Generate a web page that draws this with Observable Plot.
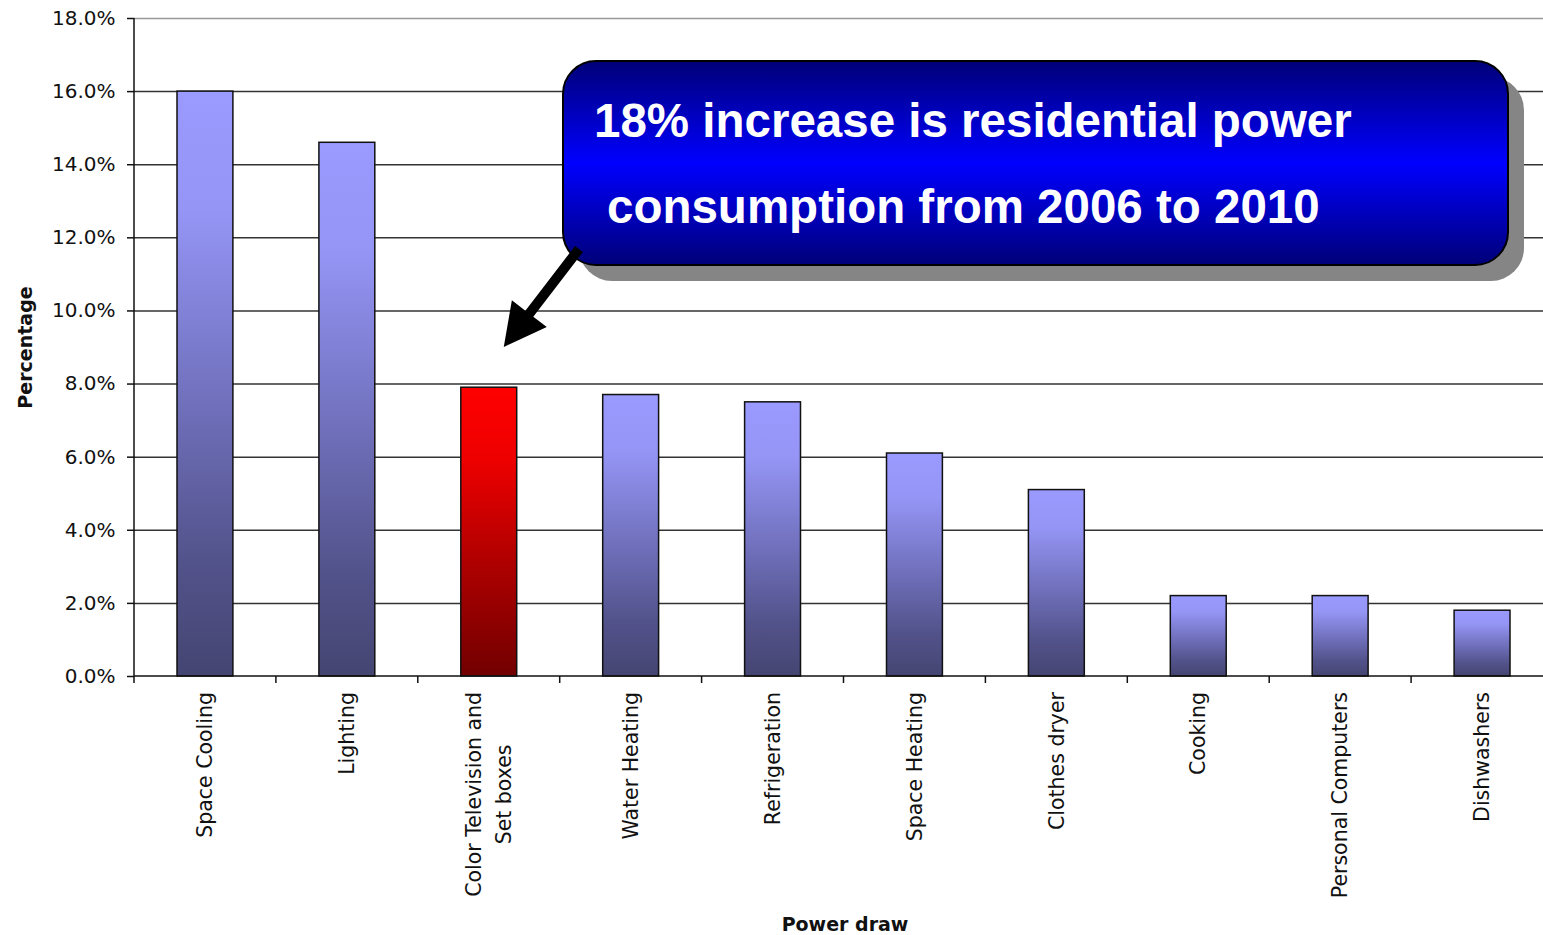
<!DOCTYPE html>
<html><head><meta charset="utf-8">
<script src="https://cdn.jsdelivr.net/npm/d3@7"></script>
<script src="https://cdn.jsdelivr.net/npm/@observablehq/plot@0.6"></script>
<style>
html,body{margin:0;padding:0;background:#fff;}
#chart svg{display:block;}
</style></head><body><div id="chart"></div>
<script>
const categories = ["Space Cooling","Lighting","Color Television and\nSet boxes","Water Heating","Refrigeration","Space Heating","Clothes dryer","Cooking","Personal Computers","Dishwashers"];
const values = [16.0, 14.6, 7.9, 7.7, 7.5, 6.1, 5.1, 2.2, 2.2, 1.8];
const highlighted = ["Color Television and\nSet boxes"];
const yTicks = [0, 2, 4, 6, 8, 10, 12, 14, 16, 18];
const calloutLines = ["18% increase is residential power", "consumption from 2006 to 2010"];
const xTitle = "Power draw";
const yTitle = "Percentage";

const data = categories.map((c, i) => ({category: c, value: values[i], hi: highlighted.includes(c)}));
const W = 1543, H = 935;
const NS = "http://www.w3.org/2000/svg";
function el(tag, attrs, parent) {
  const e = document.createElementNS(NS, tag);
  for (const k in attrs) e.setAttribute(k, attrs[k]);
  if (parent) parent.appendChild(e);
  return e;
}

// gradient definitions
function defsMark() {
  const g = el("g", {});
  const defs = el("defs", {}, g);
  const b = el("linearGradient", {id: "blueGrad", x1: 0, y1: 0, x2: 0, y2: 1}, defs);
  [[0,"#9a9aff"],[0.2,"#9595f6"],[0.55,"#6e6eb9"],[0.8,"#53538c"],[1,"#454572"]].forEach(([o,c]) => el("stop", {offset: o, "stop-color": c}, b));
  const r = el("linearGradient", {id: "redGrad", x1: 0, y1: 0, x2: 0, y2: 1}, defs);
  [[0,"#ff0000"],[0.25,"#ee0000"],[0.6,"#b00000"],[1,"#720000"]].forEach(([o,c]) => el("stop", {offset: o, "stop-color": c}, r));
  const n = el("linearGradient", {id: "boxGrad", x1: 0, y1: 0, x2: 0, y2: 1}, defs);
  [[0,"#000078"],[0.5,"#0000ff"],[1,"#000078"]].forEach(([o,c]) => el("stop", {offset: o, "stop-color": c}, n));
  return g;
}

// axis lines and category boundary ticks
function axesMark(index, scales, values, dims) {
  const g = el("g", {stroke: "#111", "stroke-width": 1.5});
  const x = scales.x, y = scales.y;
  const bw = x.bandwidth ? x.bandwidth() : 141.9;
  const y0 = y(0), yTop = y(18);
  el("line", {x1: dims.marginLeft, x2: dims.width, y1: y0, y2: y0}, g);
  el("line", {x1: dims.marginLeft, x2: dims.marginLeft, y1: yTop, y2: y0}, g);
  const bounds = categories.map(c => x(c)).concat([x(categories[categories.length-1]) + bw]);
  bounds.forEach(b => { if (b <= dims.width) el("line", {x1: b, x2: b, y1: y0, y2: y0 + 7}, g); });
  return g;
}

// rotated category labels (multi-line centered like the original)
function labelsMark(index, scales, values, dims) {
  const g = el("g", {"font-family": "DejaVu Sans, sans-serif", "font-size": 20.5, fill: "#111"});
  const ctx = document.createElement("canvas").getContext("2d");
  ctx.font = "20.5px 'DejaVu Sans'";
  const x = scales.x;
  const bw = x.bandwidth ? x.bandwidth() : 141.9;
  const y0 = scales.y(0);
  categories.forEach(c => {
    const lines = c.split("\n");
    const w = Math.max(...lines.map(l => ctx.measureText(l).width));
    const cx = x(c) + bw / 2;
    const t = el("text", {transform: `translate(${cx},${y0 + 16 + w / 2}) rotate(-90)`, "text-anchor": "middle"}, g);
    lines.forEach((l, i) => {
      const ts = el("tspan", {x: 0, y: (i - (lines.length - 1) / 2) * 30, dy: "0.35em"}, t);
      ts.textContent = l;
    });
  });
  return g;
}

// callout box with shadow and arrow
function calloutMark(index, scales, values, dims) {
  const g = el("g", {});
  const bx = 563, by = 61, bwid = 945, bh = 204, rx = 33;
  el("rect", {x: bx + 16, y: by + 16, width: bwid, height: bh, rx: rx, fill: "#858585"}, g);
  el("rect", {x: bx, y: by, width: bwid, height: bh, rx: rx, fill: "url(#boxGrad)", stroke: "#000", "stroke-width": 2}, g);
  // arrow pointing to the highlighted bar
  const x = scales.x;
  const bw = x.bandwidth ? x.bandwidth() : 141.9;
  const T = [x(highlighted[0]) + bw / 2 + 15, scales.y(9.0)];
  const S = [579, 249];
  const dx = T[0] - S[0], dy = T[1] - S[1], L = Math.hypot(dx, dy);
  const u = [dx / L, dy / L], nrm = [u[1], -u[0]];
  const B = [T[0] - 42 * u[0], T[1] - 42 * u[1]];
  const p = (P, k) => [P[0] + k * nrm[0], P[1] + k * nrm[1]];
  const pts = [p(S, 5), p(B, 5), p(B, 22), T, p(B, -22), p(B, -5), p(S, -5)];
  el("polygon", {points: pts.map(q => q.join(",")).join(" "), fill: "#000"}, g);
  const tg = el("g", {"font-family": "Liberation Sans, Arial, sans-serif", "font-weight": "bold", "font-size": 47.5, fill: "#fff", "text-anchor": "start"}, g);
  const t1 = el("text", {x: 594, y: 137}, tg); t1.textContent = calloutLines[0];
  const t2 = el("text", {x: 607, y: 223}, tg); t2.textContent = calloutLines[1];
  return g;
}

const chart = Plot.plot({
  width: W,
  height: H,
  marginLeft: 134,
  marginTop: 18,
  marginBottom: 259,
  marginRight: 0,
  style: {fontFamily: "DejaVu Sans, sans-serif", background: "#fff", color: "#111"},
  x: {type: "band", domain: categories, range: [134, 1553], padding: 0, round: false, axis: null},
  y: {domain: [0, 18], axis: null},
  marks: [
    defsMark,
    Plot.ruleY(yTicks.filter(d => d > 0 && d < 18), {y: d => d, stroke: "#333", strokeWidth: 1.5}),
    Plot.ruleY([18], {y: d => d, stroke: "#999", strokeWidth: 1.5}),
    Plot.barY(data.filter(d => !d.hi), {x: "category", y: "value", fill: "url(#blueGrad)", stroke: "#111", strokeWidth: 1.5, insetLeft: 43, insetRight: 43}),
    Plot.barY(data.filter(d => d.hi), {x: "category", y: "value", fill: "url(#redGrad)", stroke: "#111", strokeWidth: 1.5, insetLeft: 43, insetRight: 43}),
    Plot.axisY({ticks: yTicks, tickSize: 7, tickPadding: 12, tickFormat: d => d.toFixed(1) + "%", fontSize: 20, stroke: "#111", strokeWidth: 1.5, label: null}),
    axesMark,
    labelsMark,
    Plot.text([yTitle], {text: d => d, frameAnchor: "left", dx: -109, rotate: -90, textAnchor: "middle", lineAnchor: "middle", fontSize: 19, fontWeight: "bold", fill: "#111"}),
    Plot.text([xTitle], {text: d => d, frameAnchor: "bottom", dx: 6, dy: 248, textAnchor: "middle", lineAnchor: "middle", fontSize: 19, fontWeight: "bold", fill: "#111"}),
    calloutMark
  ]
});
document.getElementById("chart").appendChild(chart);
</script>
</body></html>
